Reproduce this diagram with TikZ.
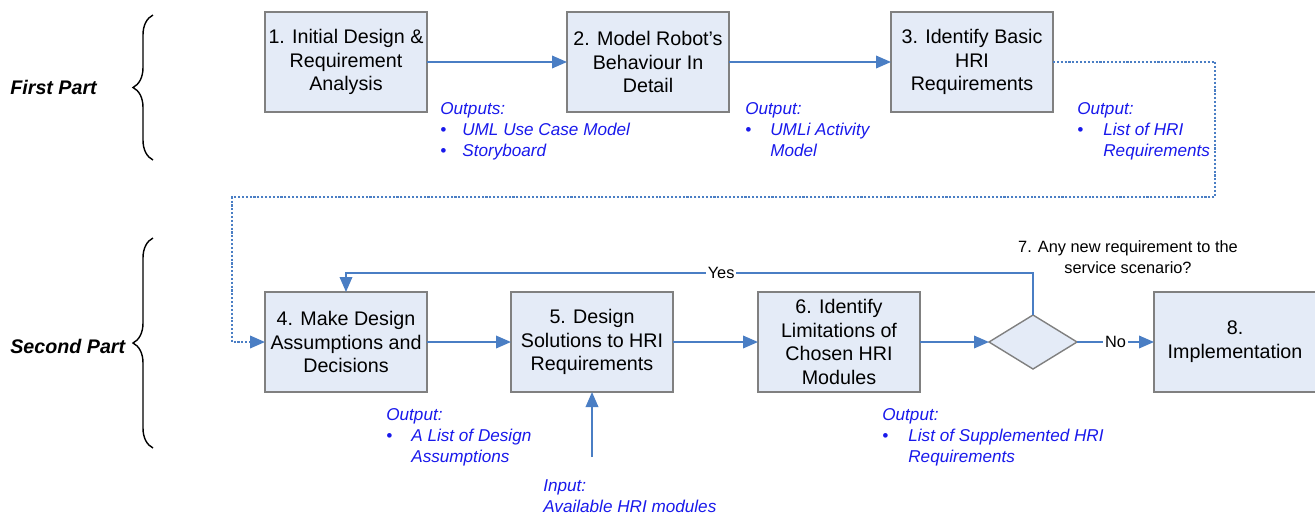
\documentclass[tikz,border=0pt]{standalone}
\usepackage{fontspec}
\setmainfont{Liberation Sans}
\usetikzlibrary{positioning,shapes.geometric,arrows.meta,decorations.pathreplacing}
\definecolor{boxfill}{RGB}{228,235,247}
\definecolor{boxline}{RGB}{128,128,128}
\definecolor{flowblue}{RGB}{74,126,196}
\definecolor{noteblue}{RGB}{25,25,235}
\tikzset{stepbox/.style={draw=boxline,fill=boxfill,line width=0.8pt,minimum width=3.24cm,minimum height=2cm,inner sep=1pt,outer sep=0pt,align=center,font=\fontsize{11.2}{13.6}\selectfont},
decision/.style={diamond,draw=boxline,fill=boxfill,line width=0.8pt,minimum width=1.76cm,minimum height=1.08cm,inner sep=0pt,outer sep=0pt},
flow/.style={draw=flowblue,line width=1.1pt,-{Triangle[length=3mm,width=2.5mm]}},
note/.style={text=noteblue,inner sep=0pt,font=\fontsize{9.75}{12.2}\selectfont\itshape},
flowlabel/.style={fill=white,inner sep=1pt,font=\fontsize{9.3}{11.9}\selectfont},
partlabel/.style={inner sep=0pt,font=\fontsize{11.2}{13.6}\selectfont\bfseries\itshape},
partbrace/.style={draw=black,line width=0.8pt,decorate,decoration={brace,amplitude=0.4cm}}
}

\begin{document}
\begin{tikzpicture}
  \useasboundingbox (0,0) rectangle (26.3,-10.3);

  % Parts
    \node[partlabel, anchor=west] (first) at (0.2,-1.74) {First Part};
    \node[partlabel, anchor=west] (second) at (0.2,-6.92) {Second Part};
    \draw[partbrace] (3.06,-3.2) -- (3.06,-0.3);
    \draw[partbrace] (3.06,-8.96) -- (3.06,-4.76);

  % First part steps
    \node[stepbox] (b1) at (6.92,-1.24) {1. Initial Design \&\\Requirement\\Analysis};
    \node[stepbox, right = 2.8 of b1] (b2) {2. Model Robot's\\Behaviour In\\Detail};
    \node[stepbox, right = 3.24 of b2] (b3) {3. Identify Basic\\HRI\\Requirements};

  % Second part steps
    \node[stepbox, below = 3.6 of b1] (b4) {4. Make Design\\Assumptions and\\Decisions};
    \node[stepbox, right = 1.68 of b4] (b5) {5. Design\\Solutions to HRI\\Requirements};
    \node[stepbox, right = 1.7 of b5] (b6) {6. Identify\\Limitations of\\Chosen HRI\\Modules};
    \node[decision, right = 1.38 of b6] (dia) {};
    \node[stepbox, right = 1.54 of dia] (b8) {8.\\Implementation};
    \node[flowlabel, fill=none, inner sep=0pt, anchor=base] (q) at (22.56,-5.46) {\begin{tabular}[b]{@{}c@{}}7. Any new requirement to the\\service scenario?\end{tabular}};

  % Outputs and input
    \node[note, anchor=base west] (o1) at (8.8,-2.28) {\begin{tabular}[t]{@{}p{0.44cm}@{}l@{}}\multicolumn{2}{@{}l@{}}{Outputs:}\\ \textbullet & UML Use Case Model\\ \textbullet & Storyboard\end{tabular}};
    \node[note, anchor=base west] (o2) at (14.9,-2.28) {\begin{tabular}[t]{@{}p{0.5cm}@{}l@{}}\multicolumn{2}{@{}l@{}}{Output:}\\ \textbullet & UMLi Activity\\ & Model\end{tabular}};
    \node[note, anchor=base west] (o3) at (21.54,-2.28) {\begin{tabular}[t]{@{}p{0.52cm}@{}l@{}}\multicolumn{2}{@{}l@{}}{Output:}\\ \textbullet & List of HRI\\ & Requirements\end{tabular}};
    \node[note, anchor=base west] (o4) at (7.72,-8.4) {\begin{tabular}[t]{@{}p{0.5cm}@{}l@{}}\multicolumn{2}{@{}l@{}}{Output:}\\ \textbullet & A List of Design\\ & Assumptions\end{tabular}};
    \node[note, anchor=base west] (o6) at (17.64,-8.4) {\begin{tabular}[t]{@{}p{0.52cm}@{}l@{}}\multicolumn{2}{@{}l@{}}{Output:}\\ \textbullet & List of Supplemented HRI\\ & Requirements\end{tabular}};
    \node[note, anchor=base west] (in) at (10.86,-9.82) {\begin{tabular}[t]{@{}l@{}}Input:\\Available HRI modules\end{tabular}};

  % Turning points
    \coordinate (turnr) at (24.3,-3.94);
    \coordinate (turnl) at (4.64,-3.94);
    \coordinate[above = 0.84 of dia.north] (loop);
    \coordinate[below = 1.3 of b5.south] (avail);

  % First part flow
    \draw[flow] (b1.east) -- (b2.west);
    \draw[flow] (b2.east) -- (b3.west);
    \draw[flow, line width=1.2pt, dash pattern=on 1.2pt off 1pt] (b3.east) -| (turnr) -- (turnl) |- (b4.west);

  % Second part flow
    \draw[flow] (b4.east) -- (b5.west);
    \draw[flow] (b5.east) -- (b6.west);
    \draw[flow] (b6.east) -- (dia.west);
    \draw[flow] (dia.east) -- node[flowlabel] (no) {No} (b8.west);
    \draw[flow] (dia.north) -- (loop) -| node[pos=0.227, flowlabel] (yes) {Yes} (b4.north);
    \draw[flow] (avail) -- (b5.south);

\end{tikzpicture}
\end{document}
